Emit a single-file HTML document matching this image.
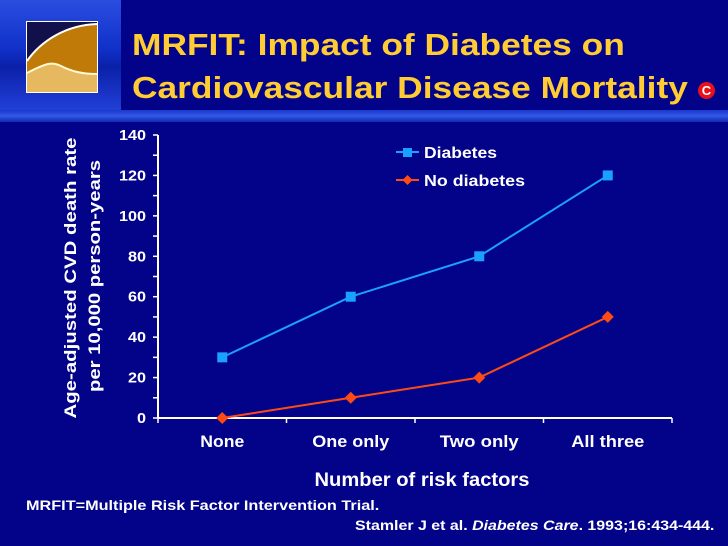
<!DOCTYPE html>
<html><head><meta charset="utf-8"><style>
body{margin:0;width:728px;height:546px;overflow:hidden;background:#03038a;font-family:"Liberation Sans",Arial,sans-serif;}
#wrap{position:relative;width:728px;height:546px;}
.abs{position:absolute;}
.t{white-space:nowrap;transform-origin:0 0;}
</style></head><body>
<div id="wrap">
<div class="abs" style="left:0;top:0;width:121px;height:111px;background:linear-gradient(180deg,#2a4de0 0%,#1030c8 45%,#0a20a8 60%,#2240d8 100%);"></div>
<div class="abs" style="left:0;top:110px;width:728px;height:12px;background:linear-gradient(180deg,#1838c8,#3458e8 50%,#1028b0);"></div>
<svg class="abs" style="left:26px;top:21px" width="72" height="72" viewBox="0 0 72 72">
<rect width="72" height="72" fill="#e6b860"/>
<rect width="72" height="72" fill="none" stroke="#fff" stroke-width="2"/>
<path d="M1 1 H71 V3 C40 4 15 20 1 40 Z" fill="#12104a"/>
<path d="M1 40 C15 20 40 4 71 3 V53 C55 53 45 50 35 45 C27 41 22 41 1 52 Z" fill="#c07a08"/>
<path d="M1 40 C15 20 40 4 71 3" fill="none" stroke="#fff" stroke-width="2"/>
<path d="M1 52 C22 41 27 41 35 45 C45 50 55 53 71 53" fill="none" stroke="#fff8d0" stroke-width="2"/>
</svg>
<div class="abs t" style="left:132px;top:23px;color:#ffcc33;font-weight:bold;font-size:31px;line-height:43px;transform:scaleX(1.14);">MRFIT: Impact of Diabetes on<br>Cardiovascular Disease Mortality</div>
<div class="abs" style="left:698px;top:82px;width:17px;height:17px;border-radius:50%;background:#e8101a;color:#fff;font-weight:bold;font-size:13px;line-height:17px;text-align:center;">C</div>
<svg class="abs" id="chart" style="left:0;top:0" width="728" height="546"></svg>
<div class="abs t" style="left:26px;top:497px;color:#fff;font-weight:bold;font-size:14px;transform:scaleX(1.16);">MRFIT=Multiple Risk Factor Intervention Trial.</div>
<div class="abs t" style="left:355px;top:517px;color:#fff;font-weight:bold;font-size:14px;transform:scaleX(1.14);">Stamler J et al. <i>Diabetes Care</i>. 1993;16:434-444.</div>
</div>
<script>
const categories=["None","One only","Two only","All three"];
const diabetes=[30,60,80,120];
const noDiabetes=[0,10,20,50];
const yTicks=[0,20,40,60,80,100,120,140];
const NS="http://www.w3.org/2000/svg";
const svg=document.getElementById('chart');
const x0=158,x1=672,yb=418,yt=135,ymax=140;
const xs=i=>x0+(x1-x0)/categories.length*(i+0.5);
const ys=v=>yb-(yb-yt)*v/ymax;
function mk(t,a,txt){const e=document.createElementNS(NS,t);for(const k in a)e.setAttribute(k,a[k]);if(txt!==undefined)e.textContent=txt;svg.appendChild(e);return e;}
function fit(e,w){e.setAttribute('textLength',w);e.setAttribute('lengthAdjust','spacingAndGlyphs');}
let e;
e=mk('line',{x1:x0,y1:yt,x2:x0,y2:yb,stroke:'#fff','stroke-width':2});


e=mk('line',{x1:x0,y1:yb,x2:x1,y2:yb,stroke:'#fff','stroke-width':2});


for(let v=0;v<=ymax;v+=10){e=mk('line',{x1:x0-5,y1:ys(v),x2:x0,y2:ys(v),stroke:'#fff','stroke-width':1.5});

}
yTicks.forEach(v=>{e=mk('text',{x:x0-12,y:ys(v)+5,fill:'#fff','font-size':15,'font-weight':'bold','text-anchor':'end'},v);
fit(e,String(v).length*9);

});
for(let i=0;i<=categories.length;i++){const x=x0+(x1-x0)/categories.length*i;e=mk('line',{x1:x,y1:yb,x2:x,y2:yb+5,stroke:'#fff','stroke-width':1.5});

}
const catW=[44,77,79,73];
categories.forEach((c,i)=>{e=mk('text',{x:xs(i),y:447,fill:'#fff','font-size':17,'font-weight':'bold','text-anchor':'middle'},c);
fit(e,catW[i]);

});
e=mk('text',{x:422,y:486,fill:'#fff','font-size':19,'font-weight':'bold','text-anchor':'middle'},'Number of risk factors');
fit(e,215);


e=mk('text',{x:0,y:0,fill:'#fff','font-size':17,'font-weight':'bold','text-anchor':'middle',transform:'translate(76,278) rotate(-90)'},'Age-adjusted CVD death rate');
fit(e,281);


e=mk('text',{x:0,y:0,fill:'#fff','font-size':17,'font-weight':'bold','text-anchor':'middle',transform:'translate(100,276) rotate(-90)'},'per 10,000 person-years');
fit(e,232);


const blue='#1aa0ff',red='#ff4a14';
e=mk('polyline',{points:diabetes.map((v,i)=>xs(i)+','+ys(v)).join(' '),fill:'none',stroke:blue,'stroke-width':2});


diabetes.forEach((v,i)=>{e=mk('rect',{x:xs(i)-5,y:ys(v)-5,width:10,height:10,fill:blue});

});
e=mk('polyline',{points:noDiabetes.map((v,i)=>xs(i)+','+ys(v)).join(' '),fill:'none',stroke:red,'stroke-width':2});


noDiabetes.forEach((v,i)=>{const x=xs(i),y=ys(v);e=mk('polygon',{points:`${x},${y-6} ${x+6},${y} ${x},${y+6} ${x-6},${y}`,fill:red});

});
e=mk('line',{x1:396,y1:152,x2:419,y2:152,stroke:blue,'stroke-width':2});


e=mk('rect',{x:403,y:148,width:9,height:9,fill:blue});


e=mk('text',{x:424,y:158,fill:'#fff','font-size':16,'font-weight':'bold'},'Diabetes');
fit(e,73);


e=mk('line',{x1:396,y1:180,x2:419,y2:180,stroke:red,'stroke-width':2});


e=mk('polygon',{points:'407.5,175 412.5,180 407.5,185 402.5,180',fill:red});


e=mk('text',{x:424,y:186,fill:'#fff','font-size':16,'font-weight':'bold'},'No diabetes');
fit(e,101);


</script>
</body></html>
